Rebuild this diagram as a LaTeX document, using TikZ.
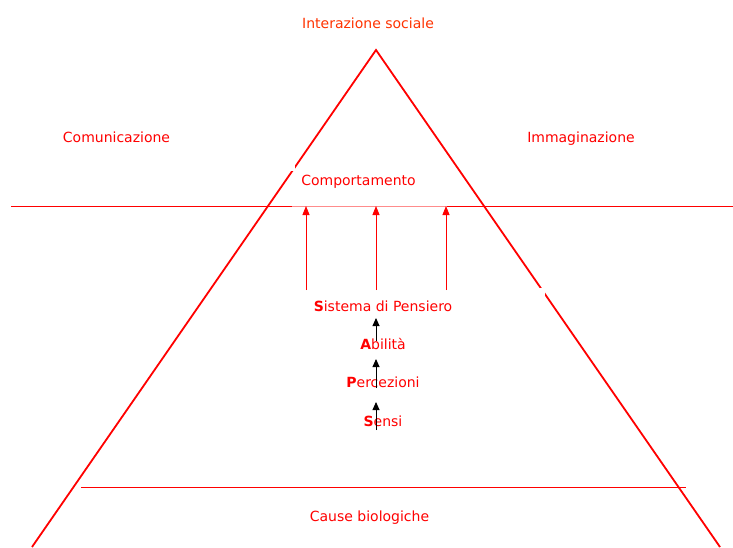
\documentclass[tikz,border=0pt]{standalone}
\usepackage{fontspec}
\setmainfont{DejaVu Sans}
\usetikzlibrary{arrows.meta}
\definecolor{lred}{RGB}{255,0,0}
\definecolor{ored}{RGB}{255,51,0}
\definecolor{pinkline}{RGB}{255,140,140}
\tikzset{
  lbl/.style={text=lred,font=\fontsize{14}{16}\selectfont,inner sep=0pt,anchor=base},
  side/.style={draw=lred,line width=1.8pt},
  hline/.style={draw=lred,line width=1pt},
  redarrow/.style={draw=lred,line width=0.9pt,-{Triangle[width=7pt,length=9pt]}},
  blackarrow/.style={draw=black,line width=0.9pt,-{Triangle[width=7pt,length=8pt]}},
}
\begin{document}
\begin{tikzpicture}[x=1pt,y=-1pt]
\useasboundingbox[fill=white] (0,0) rectangle (733,547);
\begin{scope}
\clip (0,0) rectangle (733,547);
% triangle sides
\coordinate (apex) at (376,50);
\coordinate (bl) at (32,547);
\coordinate (br) at (720,547);
\draw[side,line join=miter] (bl) -- (apex) -- (br);
% small gaps in sides
\fill[white] (287,162) rectangle (295,171);
\fill[white] (538,288) rectangle (545,296);
% horizontal line
\coordinate (h0) at (11,206);
\coordinate (h1) at (292,206);
\coordinate (h2) at (447,206);
\coordinate (h3) at (733,206);
\draw[hline] (h0) -- (h1);
\draw[draw=pinkline,line width=1pt] (h1) -- (h2);
\draw[hline] (h2) -- (h3);
% bottom line
\coordinate (b0) at (81,487);
\coordinate (b1) at (686,487);
\draw[hline] (b0) -- (b1);
\end{scope}
% labels
\node[lbl,text=ored] (inter) at (368,28.5) {Interazione sociale};
\node[lbl] (comu) at (116.5,142.5) {Comunicazione};
\node[lbl] (imma) at (581,142.5) {Immaginazione};
\node[lbl] (comp) at (358.5,185.5) {Comportamento};
\node[lbl] (sist) at (383,311.5) {\textbf{S}istema di Pensiero};
\node[lbl] (abil) at (383,349.5) {\textbf{A}bilità};
\node[lbl] (perc) at (383,387.5) {\textbf{P}ercezioni};
\node[lbl] (sens) at (383,426.5) {\textbf{S}ensi};
\node[lbl] (caus) at (369.5,521.5) {Cause biologiche};
% red arrows
\coordinate (r1s) at (306,290);
\coordinate (r1e) at (306,206);
\coordinate (r2s) at (376,290);
\coordinate (r2e) at (376,206);
\coordinate (r3s) at (446,290);
\coordinate (r3e) at (446,206);
\draw[redarrow] (r1s) -- (r1e);
\draw[redarrow] (r2s) -- (r2e);
\draw[redarrow] (r3s) -- (r3e);
% black arrows
\coordinate (k1s) at (376,341);
\coordinate (k1e) at (376,318);
\coordinate (k2s) at (376,388);
\coordinate (k2e) at (376,359);
\coordinate (k3s) at (376,430);
\coordinate (k3e) at (376,402);
\draw[blackarrow] (k1s) -- (k1e);
\draw[blackarrow] (k2s) -- (k2e);
\draw[blackarrow] (k3s) -- (k3e);
\end{tikzpicture}
\end{document}
